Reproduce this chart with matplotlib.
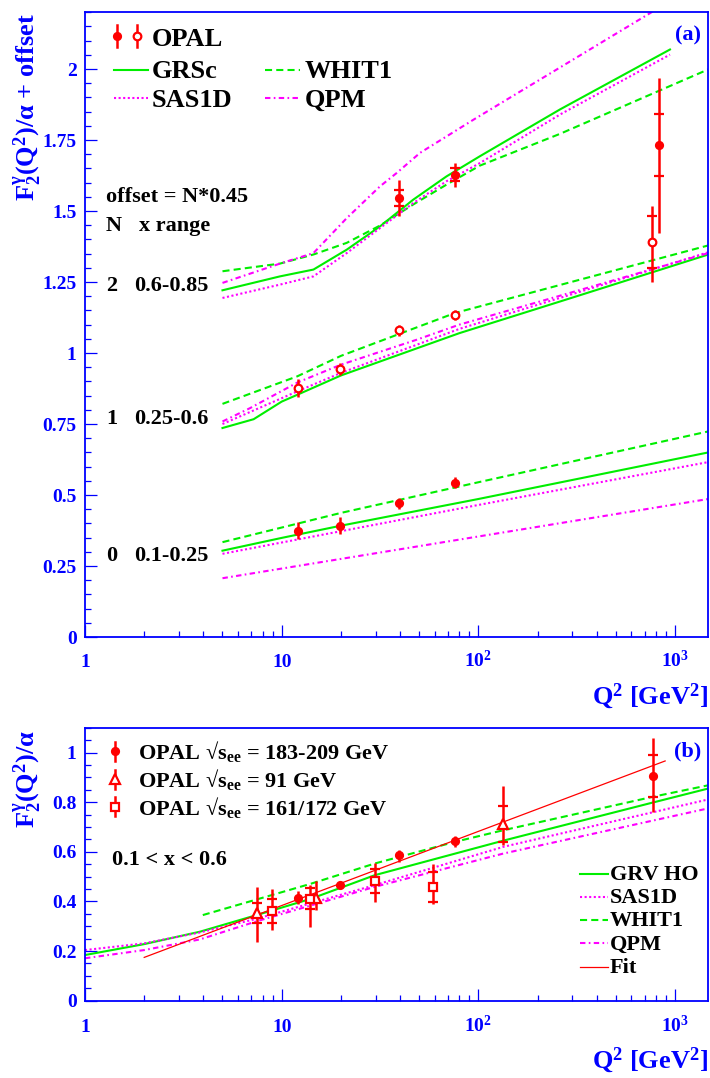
import numpy as np
import matplotlib
matplotlib.use('Agg')
import matplotlib.pyplot as plt
from matplotlib.ticker import FixedLocator, FixedFormatter, NullFormatter
from matplotlib.lines import Line2D

plt.rcParams['font.family'] = ['Liberation Serif', 'DejaVu Serif']
plt.rcParams['font.weight'] = 'bold'
plt.rcParams['mathtext.fontset'] = 'custom'
plt.rcParams['mathtext.rm'] = 'Liberation Serif:bold'
plt.rcParams['mathtext.it'] = 'Liberation Serif:bold'
plt.rcParams['mathtext.bf'] = 'Liberation Serif:bold'

BLUE = '#0000ff'
GREEN = '#00ee00'
MAGENTA = '#ff00ff'
RED = '#ff0000'

# ---------------- data: panel (a) ----------------
offsets = [0.0, 0.45, 0.9]
xrange_labels = ['0.1-0.25', '0.25-0.6', '0.6-0.85']

# OPAL points (values without offset)
a0_q = [12.1, 19.7, 39.5, 76.3]
a0_f = [0.375, 0.392, 0.471, 0.544]
a0_lo = [0.03, 0.03, 0.02, 0.018]
a0_hi = [0.03, 0.03, 0.02, 0.018]
a0_st = [0.0, 0.0, 0.0, 0.0]

a1_q = [12.1, 19.7, 39.5, 76.3, 760.0]
a1_f = [0.427, 0.494, 0.630, 0.683, 0.941]
a1_lo = [0.033, 0.02, 0.02, 0.017, 0.142]
a1_hi = [0.033, 0.02, 0.02, 0.017, 0.126]
a1_st = [0.0, 0.0, 0.0, 0.0, 0.09]

a2_q = [39.5, 76.3, 828.0]
a2_f = [0.646, 0.728, 0.832]
a2_lo = [0.062, 0.045, 0.309]
a2_hi = [0.065, 0.041, 0.235]
a2_st = [0.027, 0.023, 0.109]

# theory curves (values without offset)
grsc0_q = [5, 10, 20, 100, 1475]
grsc0_v = [0.304, 0.349, 0.392, 0.486, 0.650]
whit0_q = [5, 20, 100, 1475]
whit0_v = [0.334, 0.437, 0.545, 0.724]
sas0_q = [5, 100, 1475]
sas0_v = [0.293, 0.465, 0.616]
qpm0_q = [5, 10, 100, 1475]
qpm0_v = [0.207, 0.241, 0.354, 0.486]

grsc1_q = [5, 7.2, 10, 12, 20, 80, 316, 1475]
grsc1_v = [0.286, 0.317, 0.379, 0.403, 0.471, 0.620, 0.750, 0.897]
whit1_q = [5, 12, 20, 76, 1475]
whit1_v = [0.371, 0.468, 0.540, 0.691, 0.929]
sas1_q = [5, 12, 20, 80, 1475]
sas1_v = [0.300, 0.415, 0.480, 0.635, 0.905]
qpm1_q = [5, 6.9, 12, 20, 48.6, 80, 1475]
qpm1_v = [0.309, 0.356, 0.446, 0.509, 0.597, 0.650, 0.902]

grsc2_q = [5, 9.8, 14.5, 21.4, 31.6, 46.6, 68.8, 101.7, 260, 942]
grsc2_v = [0.321, 0.370, 0.394, 0.464, 0.546, 0.640, 0.722, 0.793, 0.958, 1.169]
whit2_q = [5, 9.8, 14.5, 21.4, 31.6, 46.6, 68.8, 101.7, 260, 1475]
whit2_v = [0.388, 0.415, 0.447, 0.488, 0.549, 0.623, 0.693, 0.760, 0.872, 1.099]
sas2_q = [5, 9.8, 14.5, 21.4, 31.6, 46.6, 68.8, 101.7, 260, 942]
sas2_v = [0.294, 0.341, 0.370, 0.452, 0.540, 0.628, 0.705, 0.769, 0.940, 1.151]
qpm2_q = [5, 9.8, 14.5, 21.4, 31.6, 38.4, 50.5, 94.5, 750, 1475]
qpm2_v = [0.347, 0.415, 0.452, 0.575, 0.687, 0.734, 0.805, 0.922, 1.298, 1.43]

# ---------------- data: panel (b) ----------------
b_new_q = [12.1, 19.8, 39.5, 76.3, 775.0]
b_new_f = [0.412, 0.4645, 0.587, 0.643, 0.905]
b_new_lo = [0.023, 0.01, 0.027, 0.023, 0.145]
b_new_hi = [0.03, 0.01, 0.02, 0.021, 0.152]
b_new_st = [0.0, 0.0, 0.0, 0.0, 0.085]

b_91_q = [7.46, 14.9, 134.0]
b_91_f = [0.352, 0.412, 0.711]
b_91_lo = [0.114, 0.045, 0.085]
b_91_hi = [0.107, 0.07, 0.153]
b_91_st = [0.04, 0.0, 0.072]

b_172_q = [8.93, 13.9, 29.8, 58.6]
b_172_f = [0.361, 0.411, 0.482, 0.459]
b_172_lo = [0.077, 0.115, 0.086, 0.068]
b_172_hi = [0.091, 0.054, 0.074, 0.091]
b_172_st = [0.049, 0.043, 0.048, 0.06]

grv_q = [1, 2, 3.84, 7.46, 14, 29.8, 134, 775, 1475]
grv_v = [0.184, 0.228, 0.278, 0.345, 0.41, 0.506, 0.645, 0.799, 0.855]
sasb_q = [1, 2, 3.84, 7.46, 29.8, 134, 1475]
sasb_v = [0.204, 0.231, 0.275, 0.33, 0.466, 0.62, 0.811]
whitb_q = [3.97, 13.9, 29.8, 76, 134, 775, 1475]
whitb_v = [0.345, 0.47, 0.553, 0.64, 0.687, 0.822, 0.868]
qpmb_q = [1, 2, 3.84, 7.46, 29.8, 134, 1475]
qpmb_v = [0.171, 0.204, 0.247, 0.32, 0.459, 0.593, 0.775]
fit_q = [2.0, 890.0]
fit_v = [0.1745, 0.966]

xt_vals = [1, 10, 100, 1000]
xt_labels = ['1', '10', r'$10^{2}$', r'$10^{3}$']
ya_ticks = [0, 0.25, 0.5, 0.75, 1, 1.25, 1.5, 1.75, 2]
ya_labels = ['0', '0.25', '0.5', '0.75', '1', '1.25', '1.5', '1.75', '2']
yb_ticks = [0, 0.2, 0.4, 0.6, 0.8, 1.0]
yb_labels = ['0', '0.2', '0.4', '0.6', '0.8', '1']

# ---------------- styles ----------------
ST = {
    'grsc': dict(color=GREEN, lw=1.5, ls='-'),
    'whit': dict(color=GREEN, lw=1.5, ls=(0, (3.4, 2.0))),
    'sas': dict(color=MAGENTA, lw=1.5, ls=(0, (1.0, 1.2))),
    'qpm': dict(color=MAGENTA, lw=1.5, ls=(0, (2.6, 1.6, 0.8, 1.6))),
    'fit': dict(color=RED, lw=0.9, ls='-'),
}

W, H = 710, 1078
fig = plt.figure(figsize=(W / 100, H / 100), dpi=100)


def fx(px):
    return px / W


def fy(py):
    return 1 - py / H


ax1 = fig.add_axes([fx(85), fy(637), (708.3 - 85) / W, (637 - 12.3) / H])
ax2 = fig.add_axes([fx(85), fy(1000.7), (708.3 - 85) / W, (1000.7 - 727.7) / H])

xminor = [m * 10 ** e for e in range(0, 3) for m in range(2, 10)]


def style_axes(ax, ylim, yt, ylab, ystep, lab_y):
    ax.set_xscale('log')
    ax.set_xlim(1, 1475)
    ax.set_ylim(*ylim)
    for s in ax.spines.values():
        s.set_color(BLUE)
        s.set_linewidth(1.3)
    ax.xaxis.set_major_locator(FixedLocator(xt_vals))
    ax.xaxis.set_minor_locator(FixedLocator(xminor))
    ax.xaxis.set_major_formatter(NullFormatter())
    ax.xaxis.set_minor_formatter(NullFormatter())
    ax.yaxis.set_major_locator(FixedLocator(yt))
    ax.yaxis.set_major_formatter(FixedFormatter(ylab))
    ax.yaxis.set_minor_locator(FixedLocator(np.arange(0, ylim[1] + 1e-9, ystep)))
    ax.tick_params(which='both', direction='in', colors=BLUE, top=False, right=False)
    ax.tick_params(which='major', length=8.5, width=0.9, pad=6.0, labelsize=14, labelcolor=BLUE)
    ax.tick_params(which='minor', length=4.6, width=0.9)
    tr = ax.get_xaxis_transform()
    for q, lab in zip(xt_vals, xt_labels):
        ax.text(q, lab_y, lab, transform=tr, ha='center', va='baseline',
                fontsize=14, color=BLUE, fontweight='bold')


style_axes(ax1, (0, 2.2), ya_ticks, ya_labels, 0.05, -0.048)
style_axes(ax2, (0, 1.1), yb_ticks, yb_labels, 0.05, -0.1136)


def points(ax, q, v, lo, hi, st, marker, filled, ms, off=0.0):
    q = np.asarray(q, float)
    v = np.asarray(v, float) + off
    ax.vlines(q, v - np.asarray(lo), v + np.asarray(hi), color=RED, lw=1.8, zorder=4)
    st = np.asarray(st, float)
    m = st > 0
    if m.any():
        ax.plot(np.r_[q[m], q[m]], np.r_[v[m] - st[m], v[m] + st[m]], ls='none',
                marker='_', ms=7, mew=1.6, color=RED, zorder=4)
    ax.plot(q, v, ls='none', marker=marker, ms=ms, mfc=RED if filled else 'white',
            mec=RED, mew=1.6, zorder=5)


# ---- panel (a) curves ----
curves_a = [
    (grsc0_q, grsc0_v, 'grsc', 0), (whit0_q, whit0_v, 'whit', 0),
    (sas0_q, sas0_v, 'sas', 0), (qpm0_q, qpm0_v, 'qpm', 0),
    (grsc1_q, grsc1_v, 'grsc', 1), (whit1_q, whit1_v, 'whit', 1),
    (sas1_q, sas1_v, 'sas', 1), (qpm1_q, qpm1_v, 'qpm', 1),
    (grsc2_q, grsc2_v, 'grsc', 2), (whit2_q, whit2_v, 'whit', 2),
    (sas2_q, sas2_v, 'sas', 2), (qpm2_q, qpm2_v, 'qpm', 2),
]
for q, v, k, n in curves_a:
    ax1.plot(q, np.asarray(v) + offsets[n], **ST[k])

points(ax1, a0_q, a0_f, a0_lo, a0_hi, a0_st, 'o', True, 5.0, offsets[0])
points(ax1, a1_q, a1_f, a1_lo, a1_hi, a1_st, 'o', False, 5.5, offsets[1])
points(ax1, a2_q, a2_f, a2_lo, a2_hi, a2_st, 'o', True, 5.0, offsets[2])

# ---- panel (b) ----
ax2.plot(grv_q, grv_v, **ST['grsc'])
ax2.plot(sasb_q, sasb_v, **ST['sas'])
ax2.plot(whitb_q, whitb_v, **ST['whit'])
ax2.plot(qpmb_q, qpmb_v, **ST['qpm'])
ax2.plot(fit_q, fit_v, **ST['fit'])

points(ax2, b_new_q, b_new_f, b_new_lo, b_new_hi, b_new_st, 'o', True, 5.0)
points(ax2, b_91_q, b_91_f, b_91_lo, b_91_hi, b_91_st, '^', False, 6.5)
points(ax2, b_172_q, b_172_f, b_172_lo, b_172_hi, b_172_st, 's', False, 6.0)

# ---------------- texts ----------------
def ftext(px, py, s, **kw):
    kw.setdefault('fontweight', 'bold')
    kw.setdefault('va', 'baseline')
    fig.text(fx(px), fy(py), s, **kw)


def fline(x0, x1, y, style):
    fig.add_artist(Line2D([fx(x0), fx(x1)], [fy(y), fy(y)], transform=fig.transFigure, **style))


def fmark(px, py, marker, filled, ms, half):
    fig.add_artist(Line2D([fx(px), fx(px)], [fy(py - half), fy(py + half)],
                          transform=fig.transFigure, color=RED, lw=1.8))
    fig.add_artist(Line2D([fx(px)], [fy(py)], transform=fig.transFigure, ls='none',
                          marker=marker, ms=ms, mfc=RED if filled else 'white',
                          mec=RED, mew=1.6))


# axis titles
ftext(28, 13, r'$\mathrm{F_2^{\gamma}(Q^2)/\alpha}$ + offset', rotation=90,
      ha='center', va='top', fontsize=19, color=BLUE)
ftext(28, 730, r'$\mathrm{F_2^{\gamma}(Q^2)/\alpha}$', rotation=90,
      ha='center', va='top', fontsize=19, color=BLUE)
ftext(708, 704, r'Q$^2$ [GeV$^2$]', ha='right', fontsize=19, color=BLUE)
ftext(708, 1068, r'Q$^2$ [GeV$^2$]', ha='right', fontsize=19, color=BLUE)
ftext(701, 40, '(a)', ha='right', fontsize=16, color=BLUE)
ftext(701, 756, '(b)', ha='right', fontsize=16, color=BLUE)

# panel (a) legend
fmark(117, 36, 'o', True, 5.0, 11)
fmark(137, 36, 'o', False, 5.5, 11)
ftext(152, 45.5, 'OPAL', fontsize=19)
fline(114, 148, 70, ST['grsc'])
ftext(152, 78, 'GRSc', fontsize=19)
fline(114, 148, 98, ST['sas'])
ftext(152, 107, 'SAS1D', fontsize=19)
fline(265, 300, 70, ST['whit'])
ftext(305, 78, 'WHIT1', fontsize=19)
fline(265, 300, 98, ST['qpm'])
ftext(305, 107, 'QPM', fontsize=19)

ftext(106, 202, 'offset = N*0.45', fontsize=16)
ftext(106, 231, 'N', fontsize=16)
ftext(139, 231, 'x range', fontsize=16)
for n, (lab, yb) in enumerate(zip(xrange_labels, [560.7, 424.3, 291])):
    ftext(106, yb, str(n), fontsize=16)
    ftext(134, yb, lab, fontsize=16)

# panel (b) legends
fmark(115, 751, 'o', True, 5.0, 9.5)
fmark(115, 779, '^', False, 6.5, 9.5)
fmark(115, 806.7, 's', False, 6.0, 9.5)
ftext(138, 759, r'OPAL √s$_{\mathrm{ee}}$ = 183-209 GeV', fontsize=16)
ftext(138, 787, r'OPAL √s$_{\mathrm{ee}}$ = 91 GeV', fontsize=16)
ftext(138, 815, r'OPAL √s$_{\mathrm{ee}}$ = 161/172 GeV', fontsize=16)
ftext(112, 865, '0.1 < x < 0.6', fontsize=16)

right_leg = [('GRV HO', 'grsc'), ('SAS1D', 'sas'), ('WHIT1', 'whit'), ('QPM', 'qpm'), ('Fit', 'fit')]
for i, (lab, k) in enumerate(right_leg):
    yb = 879.5 + 23.3 * i
    fline(580, 608, yb - 6, ST[k])
    ftext(610, yb, lab, fontsize=16)

fig.savefig('out.png', dpi=100)
